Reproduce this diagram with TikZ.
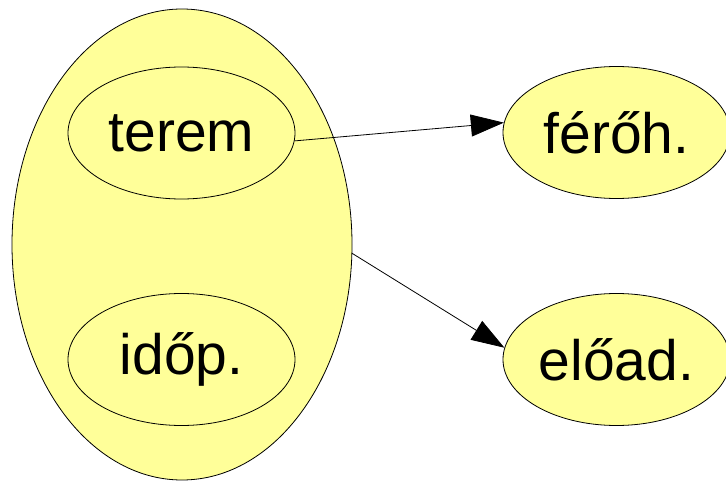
\documentclass[tikz,border=0pt]{standalone}
\usepackage{fontspec}
\setmainfont{Liberation Sans}
\usetikzlibrary{shapes.geometric,arrows.meta}
\definecolor{nodefill}{RGB}{255,255,153}
\tikzset{
  ent/.style={ellipse,draw=black,fill=nodefill,line width=0.8pt,inner sep=0pt,
    minimum width=227pt,minimum height=132pt,font=\fontsize{57}{60}\selectfont},
  grp/.style={ellipse,draw=black,fill=nodefill,line width=0.8pt,inner sep=0pt,
    minimum width=340pt,minimum height=471pt},
  conn/.style={line width=0.8pt,-{Triangle[length=33pt,width=22pt]}}
}
\begin{document}
\begin{tikzpicture}[x=1pt,y=-1pt]
\useasboundingbox (0,0) rectangle (726,481);
\node[grp] (grp) at (182,244.5) {};
\node[ent] (terem) at (181.5,133) {terem};
\node[ent] (idop) at (181.5,359.5) {időp.};
\node[ent] (feroh) at (616.5,132.5) {férőh.};
\node[ent] (eload) at (616.5,359.5) {előad.};
\draw[conn] (terem.-4.5) -- (feroh.175.7);
\draw[conn] (grp.-3.9) -- (eload.174.2);
\end{tikzpicture}
\end{document}
